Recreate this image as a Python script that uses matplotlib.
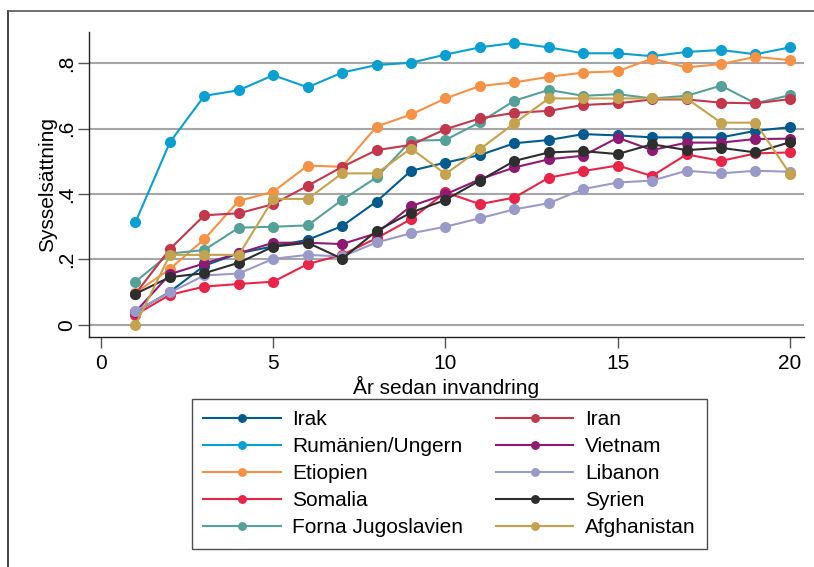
import matplotlib
matplotlib.use("Agg")
import matplotlib.pyplot as plt
from matplotlib.lines import Line2D

plt.rcParams["font.family"] = ["Liberation Sans", "DejaVu Sans"]

years = list(range(1, 21))

irak = [0.040, 0.101, 0.181, 0.219, 0.240, 0.260, 0.302, 0.377, 0.471, 0.496,
        0.519, 0.555, 0.565, 0.583, 0.579, 0.573, 0.573, 0.573, 0.593, 0.604]
rumanien = [0.314, 0.558, 0.700, 0.717, 0.763, 0.726, 0.771, 0.794, 0.801, 0.826,
            0.848, 0.862, 0.848, 0.830, 0.830, 0.821, 0.834, 0.840, 0.827, 0.848]
etiopien = [0.098, 0.171, 0.262, 0.379, 0.407, 0.487, 0.483, 0.606, 0.643, 0.692,
            0.730, 0.741, 0.758, 0.771, 0.775, 0.814, 0.787, 0.797, 0.819, 0.809]
somalia = [0.031, 0.092, 0.117, 0.125, 0.132, 0.186, 0.214, 0.265, 0.323, 0.405,
           0.369, 0.389, 0.450, 0.470, 0.487, 0.455, 0.521, 0.501, 0.524, 0.527]
jugoslavien = [0.132, 0.218, 0.229, 0.297, 0.300, 0.304, 0.382, 0.451, 0.563, 0.565,
               0.619, 0.685, 0.718, 0.700, 0.705, 0.692, 0.700, 0.731, 0.677, 0.702]
iran = [0.095, 0.232, 0.335, 0.341, 0.369, 0.425, 0.483, 0.534, 0.550, 0.598,
        0.631, 0.648, 0.654, 0.672, 0.677, 0.689, 0.689, 0.679, 0.677, 0.690]
vietnam = [0.040, 0.155, 0.188, 0.219, 0.251, 0.251, 0.247, 0.280, 0.363, 0.399,
           0.445, 0.481, 0.506, 0.517, 0.572, 0.534, 0.557, 0.557, 0.568, 0.569]
libanon = [0.043, 0.099, 0.151, 0.157, 0.202, 0.214, 0.209, 0.252, 0.280, 0.300,
           0.326, 0.353, 0.372, 0.415, 0.435, 0.441, 0.471, 0.463, 0.471, 0.468]
syrien = [0.095, 0.146, 0.158, 0.190, 0.239, 0.251, 0.202, 0.287, 0.343, 0.382,
          0.441, 0.501, 0.527, 0.531, 0.522, 0.552, 0.534, 0.541, 0.527, 0.558]
afghanistan = [0.000, 0.214, 0.214, 0.214, 0.385, 0.385, 0.463, 0.463, 0.539, 0.461,
               0.537, 0.616, 0.692, 0.692, 0.692, 0.692, 0.692, 0.618, 0.618, 0.462]

series = [
    ("Irak", irak, "#025b8c"),
    ("Rumänien/Ungern", rumanien, "#0a9fd0"),
    ("Etiopien", etiopien, "#f79146"),
    ("Somalia", somalia, "#e82449"),
    ("Forna Jugoslavien", jugoslavien, "#56a197"),
    ("Iran", iran, "#c1374b"),
    ("Vietnam", vietnam, "#8e1b73"),
    ("Libanon", libanon, "#9a9ac9"),
    ("Syrien", syrien, "#2e2e2e"),
    ("Afghanistan", afghanistan, "#c4a24f"),
]

x_ticks = [0, 5, 10, 15, 20]
y_ticks = [0, 0.2, 0.4, 0.6, 0.8]
y_ticklabels = ["0", ".2", ".4", ".6", ".8"]

W, H = 814, 567
fig = plt.figure(figsize=(W / 100, H / 100), dpi=100)
ax = fig.add_axes([89 / W, 1 - 337 / H, (804 - 89) / W, (337 - 32) / H])

for name, vals, col in series:
    ax.plot(years, vals, color=col, lw=1.5, marker="o", ms=8,
            markeredgewidth=0, label=name)

ax.set_xlim(-0.35, 20.41)
ax.set_ylim(-0.037, 0.895)
ax.set_xticks(x_ticks)
ax.set_yticks(y_ticks)
ax.set_yticklabels(y_ticklabels, rotation=90, va="center")
ax.tick_params(axis="both", labelsize=15, length=8, width=1, color="#555555",
               direction="out")
ax.tick_params(axis="x", pad=4)
ax.tick_params(axis="y", pad=1.5)
ax.yaxis.grid(True, color="#a6a6a6", lw=1.5)
ax.set_axisbelow(True)
for s in ("top", "right"):
    ax.spines[s].set_visible(False)
for s in ("left", "bottom"):
    ax.spines[s].set_color("#222222")
    ax.spines[s].set_linewidth(1.0)

ax.set_xlabel("År sedan invandring", fontsize=15, labelpad=2)
ax.set_ylabel("Sysselsättning", fontsize=15, labelpad=0)

leg = fig.legend(loc="upper left", bbox_to_anchor=(192 / W, 1 - 399 / H),
                 ncol=2, fontsize=15, frameon=True, fancybox=False,
                 edgecolor="#222222", handlelength=3.7, handletextpad=0.55,
                 columnspacing=1.6, labelspacing=0.38, borderpad=0.55,
                 markerscale=0.8, borderaxespad=0)
leg.get_frame().set_linewidth(1.0)

# outer frame around the graph region
fig.add_artist(Line2D([8 / W, 8 / W], [0, 1 - 11 / H], transform=fig.transFigure,
                      color="#222222", lw=1.2))
fig.add_artist(Line2D([8 / W, 1], [1 - 11 / H, 1 - 11 / H], transform=fig.transFigure,
                      color="#555555", lw=1.2))

fig.savefig("out.png", dpi=100, facecolor="white")
